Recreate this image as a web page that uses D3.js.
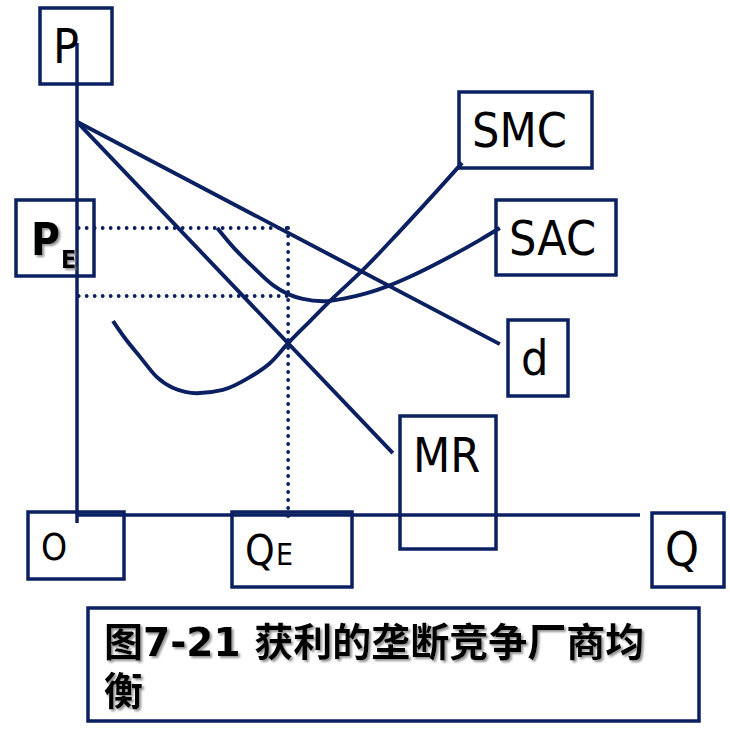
<!DOCTYPE html>
<html>
<head>
<meta charset="utf-8">
<script src="https://cdn.jsdelivr.net/npm/d3@7"></script>
<style>
  html, body { margin: 0; padding: 0; background: #ffffff; }
  svg { display: block; }
</style>
</head>
<body>
<div id="chart"></div>
<script>
// ---- data (economic units: Q on 0..100, P on 0..100) ----
const smcQ = [6.4, 8.5, 11.2, 14.2, 17.1, 21.3, 25.9, 30.7, 34.3, 37.5, 41.4, 45.5, 50.6, 57.4, 65.7, 68.4];
const smcP = [41.1, 37.5, 33.5, 29.2, 26.9, 25.8, 26.5, 29.2, 32.2, 36.4, 41.1, 46.0, 51.7, 60.2, 71.0, 74.6];
const sacQ = [24.9, 27.7, 31.3, 34.8, 37.5, 40.1, 43.7, 48.0, 51.5, 55.2, 59.7, 65.7, 71.6, 75.1];
const sacP = [60.8, 56.8, 52.5, 48.7, 46.8, 45.8, 45.3, 46.0, 47.0, 48.5, 50.8, 54.4, 58.3, 60.8];
const dQ = [0, 75.1];
const dP = [83.3, 36.2];
const mrQ = [0, 56.1];
const mrP = [83.3, 13.1];
const priceE = 60.8;   // P_E
const costE = 46.4;    // average cost at Q_E
const quantE = 37.5;   // Q_E
const captionLines = ["图7-21 获利的垄断竞争厂商均", "衡"];

const W = 730, H = 740;
const navy = "#0b2061";
const x = d3.scaleLinear().domain([0, 100]).range([77, 640]);
const y = d3.scaleLinear().domain([0, 100]).range([515, 43]);

const svg = d3.select("#chart").append("svg").attr("width", W).attr("height", H);
svg.append("rect").attr("width", W).attr("height", H).attr("fill", "#fff");

const defs = svg.append("defs");
const f = defs.append("filter").attr("id", "shadow").attr("x", "-10%").attr("y", "-10%").attr("width", "130%").attr("height", "140%");
f.append("feDropShadow").attr("dx", 2).attr("dy", 2).attr("stdDeviation", 1.2).attr("flood-color", "#777").attr("flood-opacity", 0.8);

const lineGen = d3.line().x(d => x(d[0])).y(d => y(d[1]));
const curveGen = d3.line().x(d => x(d[0])).y(d => y(d[1])).curve(d3.curveMonotoneX);
const zip = (a, b) => a.map((v, i) => [v, b[i]]);

// ---- dotted guides ----
const dotted = (pts) => svg.append("path").attr("d", lineGen(pts))
  .attr("fill", "none").attr("stroke", navy).attr("stroke-width", 3.8)
  .attr("stroke-linecap", "round").attr("stroke-dasharray", "0,8");
dotted([[0.3, priceE], [quantE, priceE]]);
dotted([[0.3, costE], [quantE, costE]]);
dotted([[quantE, priceE], [quantE, -1.7]]);

// ---- boxes (label frames) ----
const box = (x0, y0, w, h) => svg.append("rect").attr("x", x0).attr("y", y0).attr("width", w).attr("height", h)
  .attr("fill", "none").attr("stroke", navy).attr("stroke-width", 3.5);
box(40, 8, 72, 76);      // P
box(16, 200, 78, 76);    // PE
box(28, 512, 96, 67);    // O
box(232, 512, 120, 75);  // QE
box(400, 416, 96, 133);  // MR
box(652, 513, 72, 74);   // Q
box(459, 92, 133, 76);   // SMC
box(496, 200, 120, 75);  // SAC
box(508, 320, 60, 76);   // d
box(88, 608, 611, 113);  // caption

// ---- axes ----
svg.append("path").attr("d", lineGen([[0, y.invert(523)], [0, 100]]))
  .attr("stroke", navy).attr("stroke-width", 3.5).attr("fill", "none");
svg.append("path").attr("d", lineGen([[0, 0], [100, 0]]))
  .attr("stroke", navy).attr("stroke-width", 3.5).attr("fill", "none");

// ---- curves ----
const curveStyle = p => p.attr("fill", "none").attr("stroke", navy).attr("stroke-width", 3.9).attr("stroke-linecap", "butt");
curveStyle(svg.append("path").attr("d", lineGen(zip(dQ, dP))));
curveStyle(svg.append("path").attr("d", lineGen(zip(mrQ, mrP))));
curveStyle(svg.append("path").attr("d", curveGen(zip(smcQ, smcP))));
curveStyle(svg.append("path").attr("d", curveGen(zip(sacQ, sacP))));

// ---- labels ----
const latin = "'DejaVu Sans Condensed', 'DejaVu Sans', sans-serif";
const label = (t, x0, y0, size, opts = {}) => {
  const el = svg.append("text").attr("x", x0).attr("y", y0).text(t)
    .attr("font-family", latin).attr("font-size", size).attr("fill", "#000");
  if (opts.bold) el.attr("font-weight", "bold");
  if (opts.shadow) el.attr("filter", "url(#shadow)");
  return el;
};
label("P", 53, 63, 48);
label("SMC", 472, 147, 48);
label("SAC", 509, 255, 48);
label("d", 521, 375, 48);
label("MR", 413, 472, 48);
label("Q", 665, 566, 48);
label("O", 41, 560, 37);
label("Q", 245, 565, 42);
label("E", 276, 565, 30);
label("P", 31, 255, 44, {bold: true, shadow: true});
label("E", 61, 268, 25, {bold: true, shadow: true});

// ---- caption ----
const capFont = "'DejaVu Sans', 'Noto Sans CJK SC', sans-serif";
captionLines.forEach((t, i) => {
  svg.append("text").attr("x", 104).attr("y", 656 + i * 49).text(t)
    .attr("font-family", capFont).attr("font-size", 39).attr("font-weight", "bold")
    .attr("fill", "#000").attr("filter", "url(#shadow)");
});
</script>
</body>
</html>
